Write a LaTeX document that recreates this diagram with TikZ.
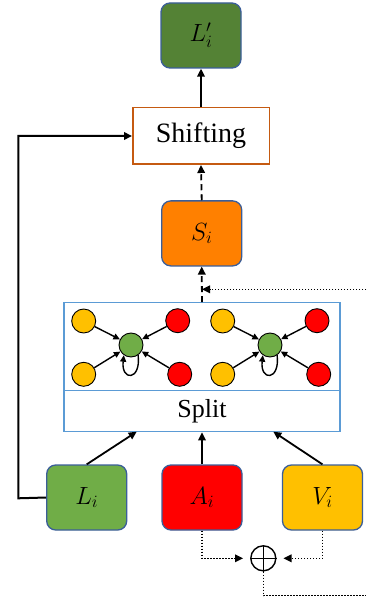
\documentclass[tikz,border=0pt]{standalone}
\usepackage{fontspec}
\setmainfont{Liberation Serif}
\usetikzlibrary{arrows.meta}

\definecolor{outblue}{HTML}{3B5E99}
\definecolor{lgreen}{HTML}{70AD47}
\definecolor{dgreen}{HTML}{548235}
\definecolor{sorange}{HTML}{FF8000}
\definecolor{redfill}{HTML}{FF0000}
\definecolor{yelfill}{HTML}{FFC000}
\definecolor{shiftedge}{HTML}{C55A11}
\definecolor{graphedge}{HTML}{5B9BD5}

\begin{document}
\begin{tikzpicture}[x=1pt,y=-1pt,
  feat/.style={rounded corners=9pt, draw=outblue, line width=1.3pt,
    minimum width=80pt, minimum height=65pt, inner sep=0pt,
    font=\fontsize{26}{28}\selectfont},
  vert/.style={circle, draw=black, line width=0.9pt, minimum size=24pt, inner sep=0pt},
  flow/.style={line width=1.8pt, -{Triangle[length=8pt,width=7.5pt]}},
  gedge/.style={line width=1.4pt, -{Triangle[length=6.5pt,width=6pt]}},
  dashflow/.style={flow, dash pattern=on 6pt off 4pt},
  dotflow/.style={line width=1.5pt, dash pattern=on 1.5pt off 1.5pt, -{Triangle[length=8pt,width=7.5pt]}},
  dotline/.style={line width=1.5pt, dash pattern=on 1.5pt off 1.5pt}
]
\useasboundingbox (0,0) rectangle (366,601);

% output and shifting stage
\node[feat, fill=dgreen] (Lp) at (201,35.5) {$L'_i$};
\node[draw=shiftedge, line width=1.5pt, minimum width=136.5pt, minimum height=56.5pt,
      inner sep=0pt, font=\fontsize{28}{30}\selectfont] (shift) at (201,136) {Shifting};
\node[feat, fill=sorange] (S) at (201.7,233.4) {$S_i$};

% graph block with split stage below
\node[draw=graphedge, line width=1.3pt, minimum width=276pt, minimum height=88pt,
      inner sep=0pt] (graph) at (202,346.7) {};
\node[draw=graphedge, line width=1.3pt, minimum width=276pt, minimum height=41pt,
      inner sep=0pt, font=\fontsize{26}{28}\selectfont] (split) at (202,411.2) {Split};

% left graph
\node[vert, fill=yelfill] (y1) at (83.7,321) {};
\node[vert, fill=yelfill] (y2) at (83.7,374.3) {};
\node[vert, fill=redfill] (r1) at (177.7,320.7) {};
\node[vert, fill=redfill] (r2) at (179.7,374.3) {};
\node[vert, fill=lgreen] (g1) at (131,345) {};
% right graph
\node[vert, fill=yelfill] (y3) at (222.7,321) {};
\node[vert, fill=yelfill] (y4) at (222.7,374.3) {};
\node[vert, fill=redfill] (r3) at (317,320.7) {};
\node[vert, fill=redfill] (r4) at (318.7,374.3) {};
\node[vert, fill=lgreen] (g2) at (270,345) {};

\foreach \s/\t in {y1/g1,y2/g1,r1/g1,r2/g1,y3/g2,y4/g2,r3/g2,r4/g2}
  \draw[gedge] (\s) -- (\t);
\draw[gedge] (g1.-55) .. controls +(3,26) and +(-3,26) .. (g1.-125);
\draw[gedge] (g2.-55) .. controls +(3,26) and +(-3,26) .. (g2.-125);

% input features
\node[feat, fill=lgreen] (L) at (86.7,497.5) {$L_i$};
\node[feat, fill=redfill] (A) at (202,497.5) {$A_i$};
\node[feat, fill=yelfill] (V) at (322.5,497.5) {$V_i$};

\node[circle, draw=black, line width=1.4pt, minimum size=25pt, inner sep=0pt] (sum) at (263.3,558.3) {};
\draw[line width=1.4pt] (sum.north) -- (sum.south) (sum.west) -- (sum.east);

% connectors
\coordinate (gin1) at (136.7,431.7);
\coordinate (gin2) at (273.3,431.7);
\draw[flow] (L.north) -- (gin1);
\draw[flow] (A.north) -- (split.south);
\draw[flow] (V.north) -- (gin2);

\draw[dashflow] (graph.north) -- (S.south);
\draw[dashflow] (S.north) -- (shift.south);
\draw[flow] (shift.north) -- (Lp.south);

\coordinate (lc) at (18.3,498.3);
\draw[flow, line width=2pt] (L.west) -- (lc) |- (shift.west);

\coordinate (fin) at (366,289.3);
\coordinate (fjoin) at (202,289.3);
\draw[dotflow] (fin) -- (fjoin);

\draw[dotflow, shorten >=7pt] (A.south) |- (sum.west);
\draw[dotflow, shorten >=7pt] (V.south) |- (sum.east);
\coordinate (fout) at (366,595.7);
\draw[dotline] (sum.south) |- (fout);
\end{tikzpicture}
\end{document}
